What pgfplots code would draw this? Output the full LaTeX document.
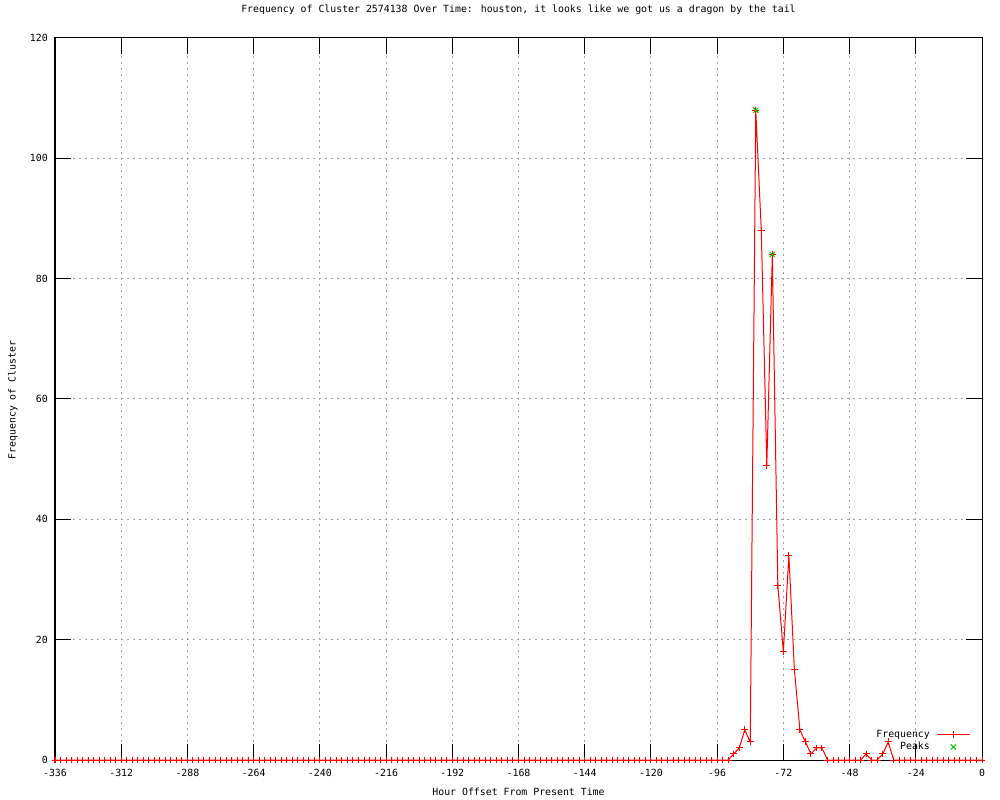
\documentclass[border=0pt]{standalone}
\usepackage{pgfplots}
\pgfplotsset{compat=1.18}
\usepackage{fontspec}
\setmainfont{DejaVu Sans Mono}
\definecolor{gpred}{RGB}{255,0,0}
\definecolor{gpgreen}{RGB}{0,192,0}
\definecolor{gpgrid}{RGB}{160,160,160}
\begin{document}
\begin{tikzpicture}[font=\fontsize{7.4}{9}\selectfont]
\fill[white] (0,0) rectangle (750pt,600pt);
\useasboundingbox (0,0) rectangle (750pt,600pt);
\begin{axis}[
  at={(41.25pt,30pt)}, anchor=south west,
  scale only axis, width=695.25pt, height=541.5pt,
  xmin=-336, xmax=0, ymin=0, ymax=120,
  xtick={-336,-312,...,0}, ytick={0,20,...,120},
  xtick pos=both, ytick pos=both, tick align=inside,
  major tick length=12pt, minor tick num=0,
  every tick/.style={black, line width=0.75pt},
  axis line style={black, line width=0.75pt},
  grid=major,
  major grid style={gpgrid, line width=0.75pt, dash pattern=on 1.5pt off 3pt},
  xticklabel={\pgfmathtruncatemacro\tk{\tick}\tk},
  yticklabel={\pgfmathtruncatemacro\tk{\tick}\tk},
  xticklabel style={anchor=center, yshift=-9.75pt, inner sep=0pt},
  yticklabel style={anchor=east, xshift=-5.25pt, inner sep=0pt},
  title={Frequency of Cluster 2574138 Over Time: houston, it looks like we got us a dragon by the tail},
  title style={at={(axis description cs:0.5,1.0277)}, anchor=center, inner sep=0pt},
  xlabel={Hour Offset From Present Time},
  xlabel style={at={(axis description cs:0.5,-0.0443)}, anchor=center, inner sep=0pt},
  ylabel={Frequency of Cluster},
  ylabel style={at={(axis description cs:-0.0453,0.4986)}, anchor=center, inner sep=0pt},
  legend style={at={(rel axis cs:0.988,0.0443)}, anchor=north east, draw=none, fill=none, inner sep=0pt, row sep=0pt, nodes={inner sep=1.2pt}},
  legend cell align=right, legend plot pos=right,
]
\addplot[gpred, line width=0.75pt, mark=+, mark size=2.6pt, mark options={solid},
  legend image code/.code={
    \path[draw=none] (0pt,0pt) -- (29pt,0pt);
    \draw[gpred, line width=0.75pt] (4pt,0pt) -- (29pt,0pt);
    \draw[gpred, line width=0.75pt] (16.5pt,-2.6pt) -- (16.5pt,2.6pt) (13.9pt,0pt) -- (19.1pt,0pt);
  }] coordinates {
(-336,0) (-334,0) (-332,0) (-330,0) (-328,0) (-326,0) (-324,0) (-322,0) (-320,0) (-318,0)
(-316,0) (-314,0) (-312,0) (-310,0) (-308,0) (-306,0) (-304,0) (-302,0) (-300,0) (-298,0)
(-296,0) (-294,0) (-292,0) (-290,0) (-288,0) (-286,0) (-284,0) (-282,0) (-280,0) (-278,0)
(-276,0) (-274,0) (-272,0) (-270,0) (-268,0) (-266,0) (-264,0) (-262,0) (-260,0) (-258,0)
(-256,0) (-254,0) (-252,0) (-250,0) (-248,0) (-246,0) (-244,0) (-242,0) (-240,0) (-238,0)
(-236,0) (-234,0) (-232,0) (-230,0) (-228,0) (-226,0) (-224,0) (-222,0) (-220,0) (-218,0)
(-216,0) (-214,0) (-212,0) (-210,0) (-208,0) (-206,0) (-204,0) (-202,0) (-200,0) (-198,0)
(-196,0) (-194,0) (-192,0) (-190,0) (-188,0) (-186,0) (-184,0) (-182,0) (-180,0) (-178,0)
(-176,0) (-174,0) (-172,0) (-170,0) (-168,0) (-166,0) (-164,0) (-162,0) (-160,0) (-158,0)
(-156,0) (-154,0) (-152,0) (-150,0) (-148,0) (-146,0) (-144,0) (-142,0) (-140,0) (-138,0)
(-136,0) (-134,0) (-132,0) (-130,0) (-128,0) (-126,0) (-124,0) (-122,0) (-120,0) (-118,0)
(-116,0) (-114,0) (-112,0) (-110,0) (-108,0) (-106,0) (-104,0) (-102,0) (-100,0) (-98,0)
(-96,0) (-94,0) (-92,0) (-90,1) (-88,2) (-86,5) (-84,3) (-82,108) (-80,88) (-78,49)
(-76,84) (-74,29) (-72,18) (-70,34) (-68,15) (-66,5) (-64,3) (-62,1) (-60,2) (-58,2)
(-56,0) (-54,0) (-52,0) (-50,0) (-48,0) (-46,0) (-44,0) (-42,1) (-40,0) (-38,0)
(-36,1) (-34,3) (-32,0) (-30,0) (-28,0) (-26,0) (-24,0) (-22,0) (-20,0) (-18,0)
(-16,0) (-14,0) (-12,0) (-10,0) (-8,0) (-6,0) (-4,0) (-2,0) (0,0)
};
\addlegendentry{Frequency}
\addplot[gpgreen, only marks, mark=x, mark size=2.8pt, line width=0.75pt,
  legend image code/.code={
    \path[draw=none] (0pt,0pt) -- (29pt,0pt);
    \draw[gpgreen, line width=0.75pt] (14.5pt,-2pt) -- (18.5pt,2pt) (14.5pt,2pt) -- (18.5pt,-2pt);
  }] coordinates {
(-82,108) (-76,84)
};
\addlegendentry{Peaks}
\end{axis}
\end{tikzpicture}
\end{document}
